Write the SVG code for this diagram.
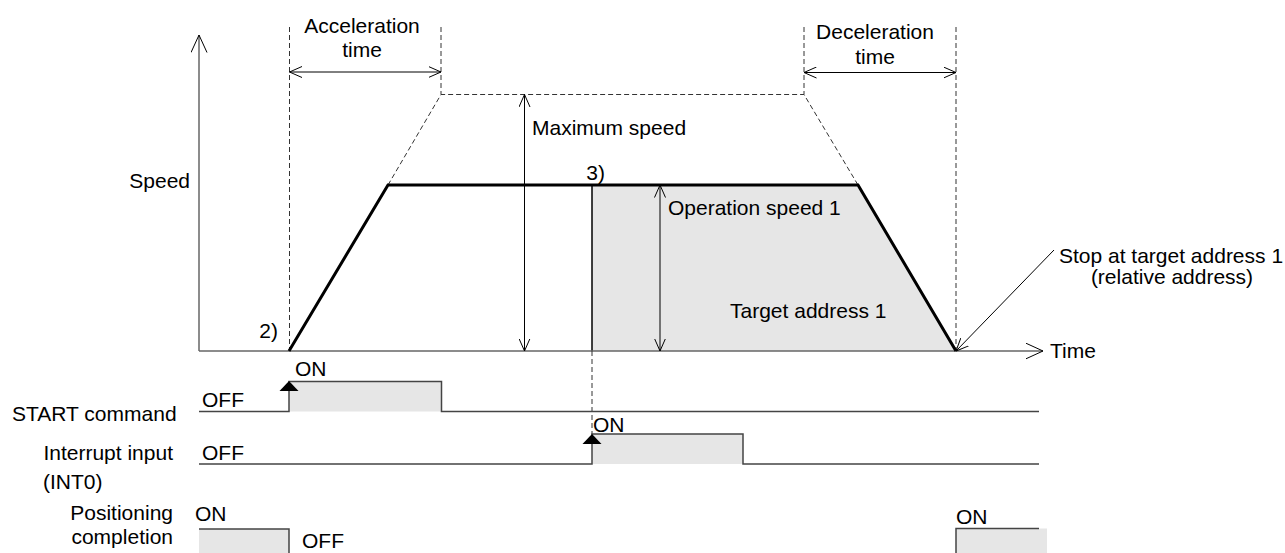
<svg xmlns="http://www.w3.org/2000/svg" width="1285" height="553" viewBox="0 0 1285 553">
<style>
text{font-family:"Liberation Sans",Arial,sans-serif;font-size:21px;fill:#000}
.dash{stroke:#333;stroke-width:1;stroke-dasharray:5,3;fill:none}
.dim{stroke:#000;stroke-width:1;fill:none}
.axis{stroke:#666;stroke-width:1.5;fill:none}
.sig{stroke:#444;stroke-width:1.5;fill:none}
.fill{fill:#e6e6e6;stroke:none}
.thick{stroke:#000;stroke-width:3;fill:none;stroke-linejoin:miter}
</style>
<defs>
<marker id="open" viewBox="0 0 13 12" refX="12.5" refY="6" markerWidth="13" markerHeight="12" markerUnits="userSpaceOnUse" orient="auto-start-reverse">
<path d="M0,0.5 L12.5,6 L0,11.5" fill="none" stroke="#000" stroke-width="1"/>
</marker>
<marker id="ax" viewBox="0 0 18 17" refX="17.5" refY="8.5" markerWidth="18" markerHeight="17" markerUnits="userSpaceOnUse" orient="auto">
<path d="M0,0.5 L17.5,8.5 L0,16.5" fill="none" stroke="#000" stroke-width="1"/>
</marker>
</defs>

<g id="speed-area">
<polygon class="fill" points="592,185 858,185 955,351 592,351"/>
<line x1="592" y1="185" x2="592" y2="351" stroke="#000" stroke-width="1.5"/>
</g>

<g id="axes">
<line class="axis" x1="199" y1="351" x2="199" y2="35" marker-end="url(#ax)"/>
<line class="axis" x1="199" y1="351" x2="1043" y2="351" marker-end="url(#ax)"/>
<text x="190" y="188" text-anchor="end">Speed</text>
<text x="1050" y="358">Time</text>
</g>

<g id="guides">
<line class="dash" x1="289.5" y1="27" x2="289.5" y2="351"/>
<line class="dash" x1="441" y1="27" x2="441" y2="94.5"/>
<line class="dash" x1="804" y1="27" x2="804" y2="94.5"/>
<line class="dash" x1="956" y1="27" x2="956" y2="351"/>
<polyline class="dash" points="388,185 441,94.5 804,94.5 858,185"/>
<line class="dash" x1="592" y1="351" x2="592" y2="434"/>
</g>

<g id="profile">
<polyline class="thick" points="289,351 388,185 858,185 956,351"/>
</g>

<g id="connectors">
<line class="dim" x1="289.5" y1="72" x2="441" y2="72" marker-start="url(#open)" marker-end="url(#open)"/>
<line class="dim" x1="804" y1="72.5" x2="956" y2="72.5" marker-start="url(#open)" marker-end="url(#open)"/>
<line class="dim" x1="524.5" y1="94.5" x2="524.5" y2="351" marker-start="url(#open)" marker-end="url(#open)"/>
<line class="dim" x1="660" y1="185" x2="660" y2="351" marker-start="url(#open)" marker-end="url(#open)"/>
<line class="dim" x1="1054" y1="250" x2="956" y2="351" marker-end="url(#open)"/>
</g>

<g id="labels">
<text x="362" y="33" text-anchor="middle">Acceleration</text>
<text x="362" y="57" text-anchor="middle">time</text>
<text x="875" y="39" text-anchor="middle">Deceleration</text>
<text x="875" y="64" text-anchor="middle">time</text>
<text x="532" y="135">Maximum speed</text>
<text x="605" y="180" text-anchor="end">3)</text>
<text x="668" y="215">Operation speed 1</text>
<text x="730" y="318">Target address 1</text>
<text x="278" y="338" text-anchor="end">2)</text>
<text x="1171" y="263" text-anchor="middle">Stop at target address 1</text>
<text x="1172" y="284" text-anchor="middle">(relative address)</text>
</g>

<g id="start-command">
<rect class="fill" x="289" y="381.5" width="152.5" height="30"/>
<path class="sig" d="M199,411.5 H289 V381.5 H441.5 V411.5 H1039"/>
<polygon points="289,381 279.5,391 298.5,391" fill="#000"/>
<text x="12" y="421">START command</text>
<text x="202" y="407">OFF</text>
<text x="295" y="376">ON</text>
</g>

<g id="interrupt-input">
<rect class="fill" x="592" y="434" width="151" height="30"/>
<path class="sig" d="M199,464 H592 V434 H743 V464 H1039"/>
<polygon points="592,434 582.5,444 601.5,444" fill="#000"/>
<text x="173" y="460" text-anchor="end">Interrupt input</text>
<text x="43" y="489">(INT0)</text>
<text x="202" y="460">OFF</text>
<text x="593" y="432">ON</text>
</g>

<g id="positioning-completion">
<rect class="fill" x="199" y="529" width="90" height="24"/>
<path class="sig" d="M199,529 H289 V553"/>
<rect class="fill" x="956" y="528.5" width="91" height="25"/>
<path class="sig" d="M956,553 V528.5 H1039"/>
<text x="173" y="520" text-anchor="end">Positioning</text>
<text x="173" y="544" text-anchor="end">completion</text>
<text x="195" y="521">ON</text>
<text x="302" y="548">OFF</text>
<text x="956" y="524">ON</text>
</g>
</svg>
